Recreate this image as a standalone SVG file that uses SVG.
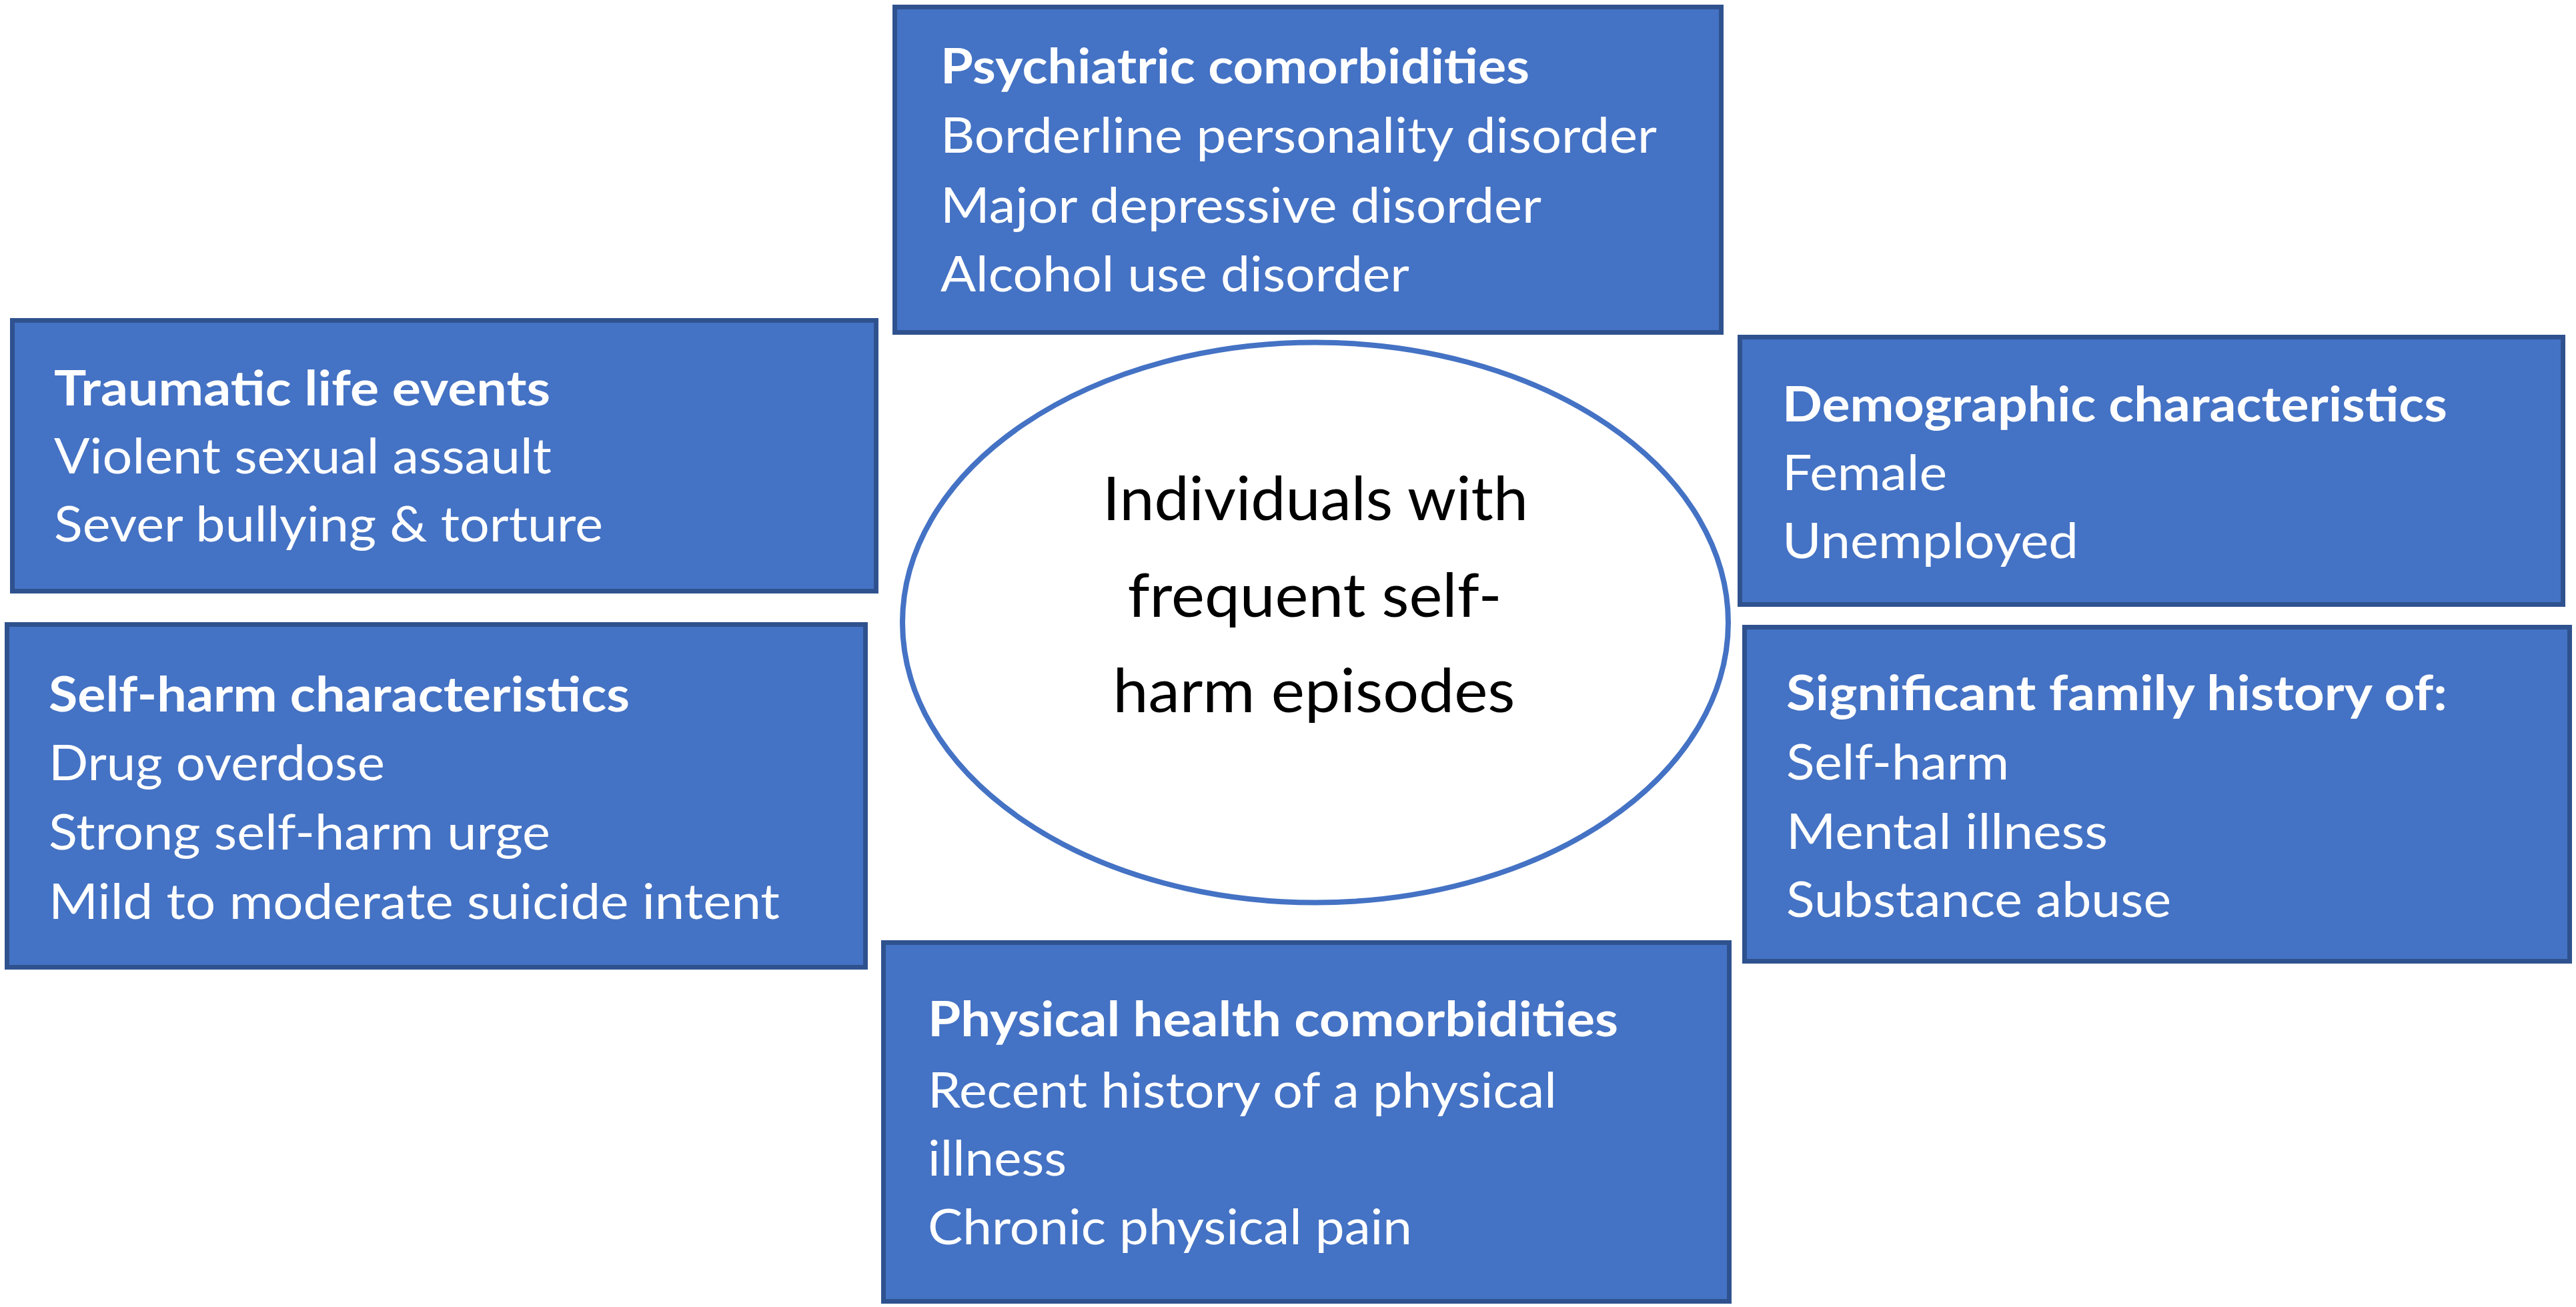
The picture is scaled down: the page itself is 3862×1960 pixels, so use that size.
<svg xmlns="http://www.w3.org/2000/svg" width="3862" height="1960" viewBox="0 0 3862 1960">
<style>
.box{fill:#4472C4;stroke:#2F528F;stroke-width:7}
.t{font-family:Lato,"Liberation Sans",sans-serif;font-size:73px;fill:#FFFFFF}
.h{font-weight:700}
.c{font-family:Lato,"Liberation Sans",sans-serif;font-size:91px;fill:#000000;text-anchor:middle}
</style>
<rect width="3862" height="1960" fill="#FFFFFF"/>
<g id="connectors"></g>
<g id="psychiatric">
<rect class="box" x="1341.5" y="10.5" width="1239" height="488"/>
<text class="t h" x="1410" y="125" textLength="883" lengthAdjust="spacingAndGlyphs">Psychiatric comorbidities</text>
<text class="t" x="1410" y="229" textLength="1074" lengthAdjust="spacingAndGlyphs">Borderline personality disorder</text>
<text class="t" x="1410" y="334" textLength="901" lengthAdjust="spacingAndGlyphs">Major depressive disorder</text>
<text class="t" x="1410" y="437" textLength="703" lengthAdjust="spacingAndGlyphs">Alcohol use disorder</text>
</g>
<g id="traumatic">
<rect class="box" x="18.5" y="480.5" width="1295" height="406"/>
<text class="t h" x="81" y="608" textLength="744" lengthAdjust="spacingAndGlyphs">Traumatic life events</text>
<text class="t" x="81" y="710" textLength="746" lengthAdjust="spacingAndGlyphs">Violent sexual assault</text>
<text class="t" x="81" y="812" textLength="823" lengthAdjust="spacingAndGlyphs">Sever bullying &amp; torture</text>
</g>
<g id="selfharm">
<rect class="box" x="10.5" y="936.5" width="1287" height="514"/>
<text class="t h" x="73" y="1067" textLength="871" lengthAdjust="spacingAndGlyphs">Self-harm characteristics</text>
<text class="t" x="73" y="1170" textLength="504" lengthAdjust="spacingAndGlyphs">Drug overdose</text>
<text class="t" x="73" y="1274" textLength="752" lengthAdjust="spacingAndGlyphs">Strong self-harm urge</text>
<text class="t" x="73" y="1378" textLength="1096" lengthAdjust="spacingAndGlyphs">Mild to moderate suicide intent</text>
</g>
<g id="demographic">
<rect class="box" x="2608.5" y="505.5" width="1234" height="401"/>
<text class="t h" x="2672" y="632" textLength="997" lengthAdjust="spacingAndGlyphs">Demographic characteristics</text>
<text class="t" x="2672" y="735" textLength="247" lengthAdjust="spacingAndGlyphs">Female</text>
<text class="t" x="2672" y="837" textLength="444" lengthAdjust="spacingAndGlyphs">Unemployed</text>
</g>
<g id="family">
<rect class="box" x="2615.5" y="940.5" width="1237" height="501"/>
<text class="t h" x="2678" y="1065" textLength="991" lengthAdjust="spacingAndGlyphs">Significant family history of:</text>
<text class="t" x="2678" y="1169" textLength="334" lengthAdjust="spacingAndGlyphs">Self-harm</text>
<text class="t" x="2678" y="1273" textLength="482" lengthAdjust="spacingAndGlyphs">Mental illness</text>
<text class="t" x="2678" y="1375" textLength="577" lengthAdjust="spacingAndGlyphs">Substance abuse</text>
</g>
<g id="physical">
<rect class="box" x="1324.5" y="1413.5" width="1268" height="538"/>
<text class="t h" x="1391" y="1554" textLength="1035" lengthAdjust="spacingAndGlyphs">Physical health comorbidities</text>
<text class="t" x="1391" y="1661" textLength="943" lengthAdjust="spacingAndGlyphs">Recent history of a physical</text>
<text class="t" x="1391" y="1763" textLength="208" lengthAdjust="spacingAndGlyphs">illness</text>
<text class="t" x="1391" y="1866" textLength="726" lengthAdjust="spacingAndGlyphs">Chronic physical pain</text>
</g>
<g id="center">
<ellipse cx="1972" cy="933.5" rx="619" ry="420" fill="#FFFFFF" stroke="#4472C4" stroke-width="8"/>
<text class="c" x="1972" y="780" textLength="638" lengthAdjust="spacingAndGlyphs">Individuals with</text>
<text class="c" x="1971" y="925" textLength="561" lengthAdjust="spacingAndGlyphs">frequent self-</text>
<text class="c" x="1970" y="1068" textLength="603" lengthAdjust="spacingAndGlyphs">harm episodes</text>
</g>
</svg>
